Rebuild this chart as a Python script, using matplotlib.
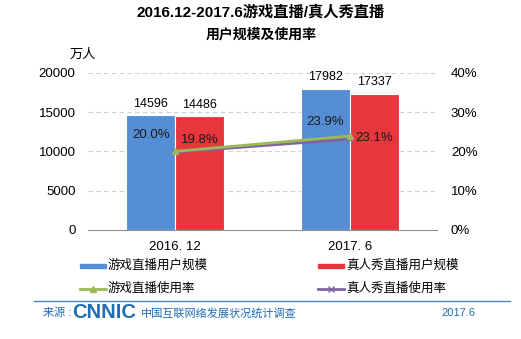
import matplotlib
matplotlib.use("Agg")
import matplotlib.pyplot as plt
from matplotlib.patches import Rectangle
import numpy as np

plt.rcParams['font.family'] = ['Liberation Sans', 'Noto Sans CJK SC', 'DejaVu Sans']

periods = ['2016. 12', '2017. 6']
game_users = [14596, 17982]
show_users = [14486, 17337]
game_rate = [20.0, 23.9]
show_rate = [19.8, 23.1]
left_ticks = [0, 5000, 10000, 15000, 20000]
right_ticks = [0, 10, 20, 30, 40]

blue = '#558ed5'
red = '#e8373c'
green = '#9bbb59'
purple = '#8064a2'
footer_blue = '#1f6db3'

W, H = 521, 339
fig = plt.figure(figsize=(W / 100, H / 100), dpi=100)

ax = fig.add_axes([88 / W, 1 - 230 / H, (437 - 88) / W, (230 - 72.7) / H])
x = np.arange(len(periods))
bw = 0.28
b1 = ax.bar(x - bw / 2, game_users, bw, color=blue, edgecolor='white', linewidth=0.8, zorder=3)
b2 = ax.bar(x + bw / 2, show_users, bw, color=red, edgecolor='white', linewidth=0.8, zorder=3)
ax.set_xlim(-0.5, 1.5)
ax.set_ylim(0, 20000)
ax.set_yticks(left_ticks)
ax.set_yticklabels([str(t) for t in left_ticks], fontsize=9.5)
ax.set_xticks(x)
ax.set_xticklabels(periods, fontsize=9.5)
ax.tick_params(axis='y', length=0, pad=9)
ax.tick_params(axis='x', length=0, pad=8)
ax.grid(axis='y', linestyle=(0, (4, 3)), color='#d0d0d0', linewidth=0.8, zorder=0)
for s in ['left', 'right', 'top']:
    ax.spines[s].set_visible(False)
ax.spines['bottom'].set_color('#909090')

for bars, vals in ((b1, game_users), (b2, show_users)):
    for bar, v in zip(bars, vals):
        ax.annotate(str(v), (bar.get_x() + bar.get_width() / 2, v), xytext=(0, 4),
                    textcoords='offset points', ha='center', va='bottom', fontsize=9)

# rate labels sit inside the bars
rate_offsets = [[-14, -24], [-17, -32]]
for i, (bars, rates) in enumerate(((b1, game_rate), (b2, show_rate))):
    for j, (bar, r) in enumerate(zip(bars, rates)):
        ax.annotate(f'{r:.1f}%', (bar.get_x() + bar.get_width() / 2, bar.get_height()),
                    xytext=(0, rate_offsets[i][j]), textcoords='offset points',
                    ha='center', va='center', fontsize=9.5, color='#1a1a1a', zorder=6)

ax2 = ax.twinx()
ax2.set_ylim(0, 40)
ax2.set_yticks(right_ticks)
ax2.set_yticklabels([f'{t}%' for t in right_ticks], fontsize=9.5)
ax2.tick_params(axis='y', length=0, pad=10)
for s in ax2.spines.values():
    s.set_visible(False)
ax2.plot(x, show_rate, color=purple, linewidth=2, marker='x', markersize=5, zorder=5)
ax2.plot(x, game_rate, color=green, linewidth=2, marker='^', markersize=5, zorder=5)

fig.text(70 / W, 1 - 55 / H, '万人', fontsize=9.5, ha='left', va='center')
fig.text(261 / W, 1 - 12 / H, '2016.12-2017.6游戏直播/真人秀直播', fontsize=11,
         fontweight='bold', ha='center', va='center')
fig.text(261 / W, 1 - 35 / H, '用户规模及使用率', fontsize=10, fontweight='bold',
         ha='center', va='center')

# legend drawn by hand in two columns
leg = fig.add_axes([0, 0, 1, 1])
leg.set_xlim(0, W)
leg.set_ylim(H, 0)
leg.axis('off')
leg.patch.set_alpha(0)
leg.add_patch(Rectangle((80, 264), 26, 4, color=blue))
leg.add_patch(Rectangle((318, 264), 26, 4, color=red))
leg.text(108, 266, '游戏直播用户规模', fontsize=9, va='center')
leg.text(346, 266, '真人秀直播用户规模', fontsize=9, va='center')
leg.plot([80, 106], [289, 289], color=green, linewidth=2)
leg.plot([93], [289], marker='^', color=green, markersize=5)
leg.text(108, 289, '游戏直播使用率', fontsize=9, va='center')
leg.plot([318, 344], [289, 289], color=purple, linewidth=2)
leg.plot([331], [289], marker='x', color=purple, markersize=5)
leg.text(346, 289, '真人秀直播使用率', fontsize=9, va='center')

leg.plot([34, 510], [301, 301], color='#4f81bd', linewidth=1)
leg.text(43, 313, '来源 :', fontsize=8, color=footer_blue, va='center')
leg.text(72, 312, 'CNNIC', fontsize=14.5, fontweight='bold', color=footer_blue,
         va='center', family='Liberation Sans')
leg.text(141, 313, '中国互联网络发展状况统计调查', fontsize=8, color=footer_blue, va='center')
leg.text(441, 313, '2017.6', fontsize=8, color=footer_blue, va='center')

fig.savefig('out.png', dpi=100, facecolor='white')
